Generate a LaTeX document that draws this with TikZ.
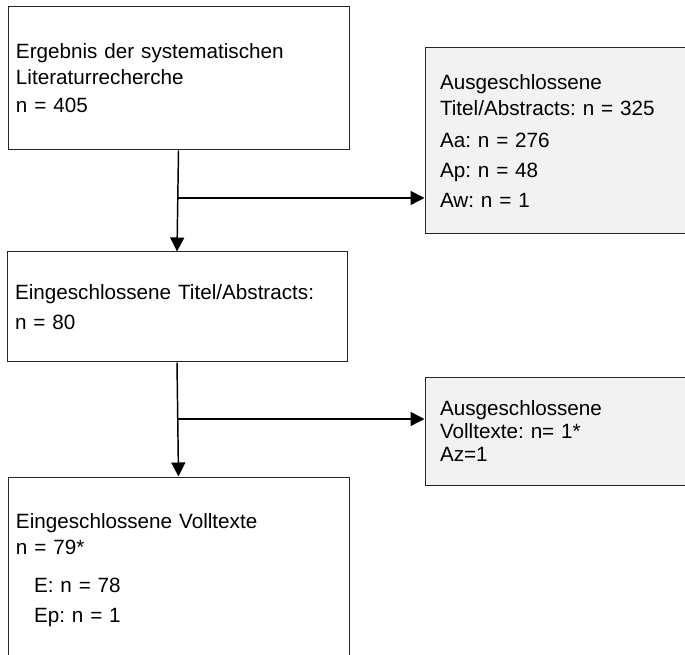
\documentclass[tikz,border=0pt]{standalone}
\usepackage{fontspec}
\setmainfont{Liberation Sans}
\usepackage{tikz}
\usetikzlibrary{positioning,arrows.meta}
\definecolor{boxgrey}{HTML}{F2F2F2}
\frenchspacing
\tikzset{every picture/.style={line width=0.75pt}}
\tikzset{
  stage/.style={draw=black!85, fill=white, rectangle, align=left, inner ysep=0pt,
    font=\fontsize{15.5}{19.5}\selectfont},
  excluded/.style={stage, fill=boxgrey},
  flow/.style={line width=1.1pt, -{Triangle[length=10.5pt,width=10.5pt]}}
}

\begin{document}
\begin{tikzpicture}[x=0.75pt,y=-0.75pt]
\path[use as bounding box, clip] (0,0) rectangle (685,655);
\node[stage, text width=243.75pt, inner xsep=6pt, minimum height=107.25pt] (search) at (178.5,78.5)
  {Ergebnis der systematischen\\ Literaturrecherche\\[1.5pt] n = 405};
\node[excluded, text width=187.5pt, inner xsep=11.25pt, minimum height=139.5pt] (exclTA) at (565,141)
  {Ausgeschlossene\\ Titel/Abstracts: n = 325\\[4.5pt] Aa: n = 276\\[3pt] Ap: n = 48\\[3pt] Aw: n = 1};
\node[stage, text width=243pt, inner xsep=6pt, minimum height=82.5pt] (inclTA) at (177,307)
  {Eingeschlossene Titel/Abstracts:\\[3pt] n = 80};
\node[excluded, text width=187.5pt, inner xsep=11.25pt, minimum height=80.25pt,
  font=\fontsize{15.5}{17.25}\selectfont] (exclFT) at (565,431.5)
  {Ausgeschlossene\\ Volltexte: n= 1*\\ Az=1};
\node[stage, text width=243.75pt, inner xsep=6pt, minimum height=139.5pt] (inclFT) at (178.5,570)
  {Eingeschlossene Volltexte\\ n = 79*\\[9pt] \hspace*{13.5pt}E: n = 78\\[3pt] \hspace*{13.5pt}Ep: n = 1};
%
\coordinate (split1) at (178,198);
\coordinate (split2) at (178,419);
\draw[flow] (search.south) -- (inclTA.north);
\draw[flow] (split1) -- (split1 -| exclTA.west);
\draw[flow] (inclTA.south) -- (inclFT.north);
\draw[flow] (split2) -- (split2 -| exclFT.west);
\end{tikzpicture}
\end{document}
